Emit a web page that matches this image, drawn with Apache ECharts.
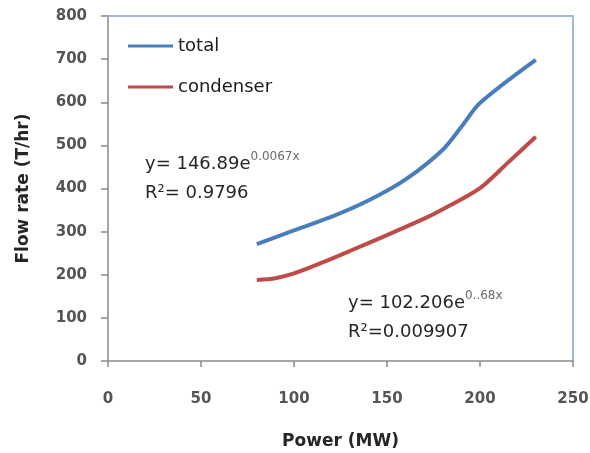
<!DOCTYPE html>
<html>
<head>
<meta charset="utf-8">
<script src="https://cdn.jsdelivr.net/npm/echarts@6/dist/echarts.min.js"></script>
<style>
  html, body { margin: 0; padding: 0; background: #fff; }
  #chart { width: 590px; height: 453px; }
</style>
</head>
<body>
<div id="chart"></div>
<script>
// Power (MW) against flow rate (T/hr)
const totalPower = [80, 100, 120, 140, 160, 180, 190, 200, 230];
const totalFlow = [271, 303, 334, 372, 421, 490, 543, 598, 698];

const condPower = [80, 90, 100, 115, 130, 150, 170, 180, 200, 215, 230];
const condFlow = [188, 192, 203, 228, 255, 292, 330, 352, 401, 460, 520];

const xTicks = [0, 50, 100, 150, 200, 250];
const yTicks = [0, 100, 200, 300, 400, 500, 600, 700, 800];

const seriesNames = ['total', 'condenser'];
const fitTotal = { base: 'y= 146.89e', exp: '0.0067x', r2: 'R\u00b2= 0.9796' };
const fitCond = { base: 'y= 102.206e', exp: '0..68x', r2: 'R\u00b2=0.009907' };

const FONT = 'DejaVu Sans';
const pair = (xs, ys) => xs.map((x, i) => [x, ys[i]]);

const chart = echarts.init(document.getElementById('chart'), null, { renderer: 'canvas' });

// Trend-line equation: base text with a raised exponent, R² on the line below
const fitText = (f, left, top) => ({
  type: 'group',
  left: left,
  top: top,
  children: [{
    type: 'text',
    x: 0,
    y: 0,
    style: {
      text: '{b|' + f.base + '}{s|' + f.exp + '}',
      rich: {
        b: { fontFamily: FONT, fontSize: 18, fill: '#262626', lineHeight: 22, verticalAlign: 'bottom' },
        s: { fontFamily: FONT, fontSize: 12, fill: '#6a6a6a', lineHeight: 22, verticalAlign: 'top' }
      }
    }
  }, {
    type: 'text',
    x: 0,
    y: 33,
    style: { text: f.r2, fontFamily: FONT, fontSize: 18, fill: '#262626' }
  }]
});

const tickLabel = { fontFamily: FONT, fontSize: 15, fontWeight: 'bold', color: '#555555' };
const axisTitle = { fontFamily: FONT, fontSize: 17, fontWeight: 'bold', color: '#262626' };

chart.setOption({
  animation: false,
  backgroundColor: '#fff',
  grid: { left: 108, right: 17, top: 16, bottom: 92, containLabel: false, outerBoundsMode: 'none' },
  legend: {
    data: seriesNames,
    orient: 'vertical',
    left: 123,
    top: 32,
    itemGap: 23,
    icon: 'rect',
    itemWidth: 45,
    itemHeight: 3,
    textStyle: { fontFamily: FONT, fontSize: 18, color: '#1a1a1a' }
  },
  xAxis: [{
    type: 'value',
    min: xTicks[0],
    max: xTicks[xTicks.length - 1],
    interval: xTicks[1] - xTicks[0],
    name: 'Power (MW)',
    nameLocation: 'middle',
    nameGap: 72,
    nameTextStyle: axisTitle,
    axisLine: { show: true, onZero: false, lineStyle: { color: '#8a8a8a', width: 1.5 } },
    axisTick: { show: true, length: 6, lineStyle: { color: '#8a8a8a', width: 1.5 } },
    axisLabel: Object.assign({ margin: 31 }, tickLabel),
    splitLine: { show: false }
  }, {
    type: 'value',
    position: 'top',
    min: xTicks[0],
    max: xTicks[xTicks.length - 1],
    axisLine: { show: true, onZero: false, lineStyle: { color: '#9bb8de', width: 2 } },
    axisTick: { show: false },
    axisLabel: { show: false },
    splitLine: { show: false }
  }],
  yAxis: [{
    type: 'value',
    min: yTicks[0],
    max: yTicks[yTicks.length - 1],
    interval: yTicks[1] - yTicks[0],
    name: 'Flow rate (T/hr)',
    nameLocation: 'middle',
    nameGap: 76,
    nameRotate: 90,
    nameTextStyle: axisTitle,
    axisLine: { show: true, onZero: false, lineStyle: { color: '#8a8a8a', width: 1.5 } },
    axisTick: { show: true, length: 7, lineStyle: { color: '#8a8a8a', width: 1.5 } },
    axisLabel: Object.assign({ margin: 21 }, tickLabel),
    splitLine: { show: false }
  }, {
    type: 'value',
    position: 'right',
    min: yTicks[0],
    max: yTicks[yTicks.length - 1],
    axisLine: { show: true, onZero: false, lineStyle: { color: '#9bb8de', width: 2 } },
    axisTick: { show: false },
    axisLabel: { show: false },
    splitLine: { show: false }
  }],
  series: [{
    name: seriesNames[0],
    type: 'line',
    data: pair(totalPower, totalFlow),
    smooth: 0.3,
    showSymbol: false,
    itemStyle: { color: '#4a7ebb' },
    lineStyle: { color: '#4a7ebb', width: 4 }
  }, {
    name: seriesNames[1],
    type: 'line',
    data: pair(condPower, condFlow),
    smooth: 0.3,
    showSymbol: false,
    itemStyle: { color: '#be4b48' },
    lineStyle: { color: '#be4b48', width: 4 }
  }],
  graphic: [
    fitText(fitTotal, 145, 151),
    fitText(fitCond, 348, 290)
  ]
});
</script>
</body>
</html>
